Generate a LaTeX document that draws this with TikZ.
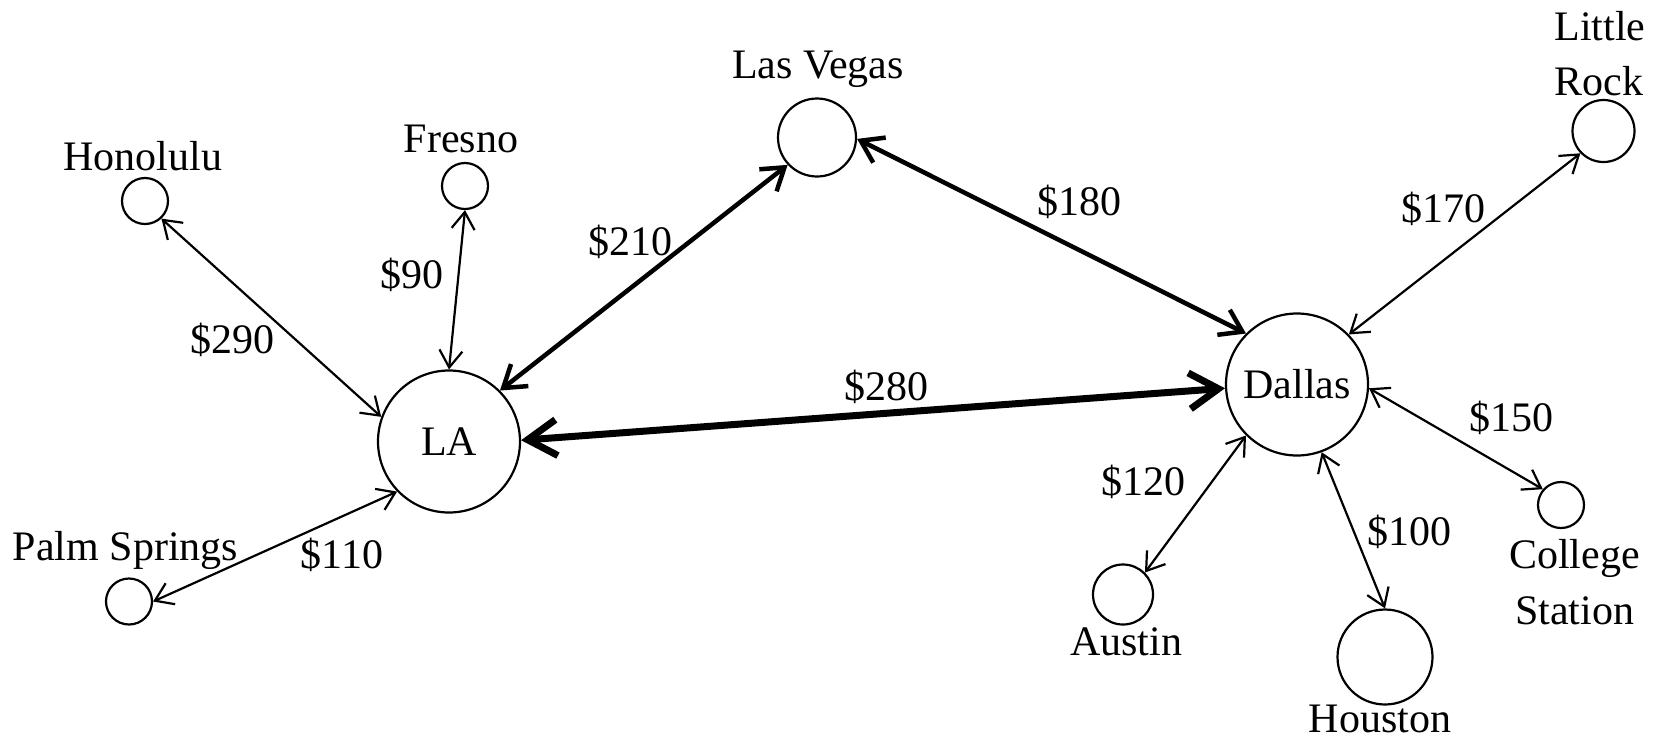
\documentclass[tikz,border=0pt]{standalone}
\usepackage{fontspec}
\setmainfont{Liberation Serif}
\usetikzlibrary{arrows.meta}
\tikzset{
  city/.style={circle, draw, line width=2.2pt, inner sep=0pt, minimum size=#1,
    font=\fontsize{42}{55}\selectfont},
  lbl/.style={anchor=base, inner sep=0pt, font=\fontsize{42}{55}\selectfont},
  edgeA/.style={line width=2.2pt,
    {Straight Barb[length=17pt,width=23pt]}-{Straight Barb[length=17pt,width=23pt]}},
  edgeB/.style={line width=4.5pt,
    {Straight Barb[length=21pt,width=28pt]}-{Straight Barb[length=21pt,width=28pt]}},
  edgeC/.style={line width=7pt,
    {Straight Barb[length=29pt,width=36pt]}-{Straight Barb[length=29pt,width=36pt]}},
}
\begin{document}
\begin{tikzpicture}[x=1pt,y=-1pt]
\useasboundingbox (0,0) rectangle (1655,740);
% cities
\node[city=46pt] (Hon) at (145,201) {};
\node[city=46pt] (Fre) at (465,186) {};
\node[city=46pt] (PS) at (129,601.5) {};
\node[city=46pt] (CS) at (1561,505) {};
\node[city=60pt] (Aus) at (1123,594.5) {};
\node[city=62pt] (LR) at (1603.5,131) {};
\node[city=78pt] (LV) at (817,137.5) {};
\node[city=95pt] (Hou) at (1385,657) {};
\node[city=142pt] (LA) at (449,441.5) {LA};
\node[city=142pt] (Dal) at (1297,384.5) {Dallas};
% city names
\node[lbl] (tHon) at (143,170) {Honolulu};
\node[lbl] (tFre) at (461,152) {Fresno};
\node[lbl] (tPS) at (125.5,560) {Palm Springs};
\node[lbl] (tLV) at (818,78) {Las Vegas};
\node[lbl] (tLR1) at (1600,40.7) {Little};
\node[lbl] (tLR2) at (1599,95.7) {Rock};
\node[lbl] (tCS1) at (1574.6,568) {College};
\node[lbl] (tCS2) at (1574.6,624) {Station};
\node[lbl] (tAus) at (1126,655) {Austin};
\node[lbl] (tHou) at (1380,732) {Houston};
% edges
\draw[edgeA] (Hon.-47) -- (LA.160.5);
\draw[edgeA] (Fre.-90) -- (LA.90);
\draw[edgeA] (PS.0) -- (LA.224);
\draw[edgeB] (LA.45) -- (LV.223);
\draw[edgeB] (LV.-2) -- (Dal.135);
\draw[edgeC] (LA.1) -- (Dal.183);
\draw[edgeA] (Dal.44) -- (LR.224);
\draw[edgeA] (Dal.-3) -- (CS.139);
\draw[edgeA] (Dal.-70) -- (Hou.90);
\draw[edgeA] (Dal.225) -- (Aus.45);
% edge labels
\node[lbl] (p290) at (232,353) {\$290};
\node[lbl] (p90) at (412,288) {\$90};
\node[lbl] (p110) at (342,568) {\$110};
\node[lbl] (p210) at (630.7,255) {\$210};
\node[lbl] (p180) at (1079.5,215) {\$180};
\node[lbl] (p280) at (886.5,400) {\$280};
\node[lbl] (p170) at (1443,222.7) {\$170};
\node[lbl] (p150) at (1511,431.7) {\$150};
\node[lbl] (p120) at (1143,495) {\$120};
\node[lbl] (p100) at (1409.5,545) {\$100};
\end{tikzpicture}
\end{document}
